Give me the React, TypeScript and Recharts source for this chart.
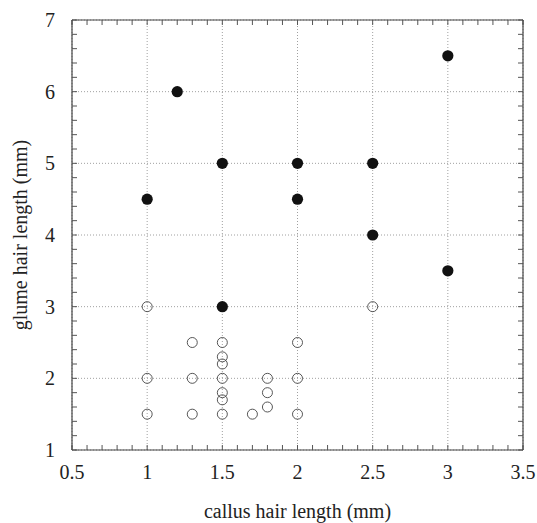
import { ScatterChart, Scatter, XAxis, YAxis, CartesianGrid, Label } from 'recharts'

// filled dots
const filledPoints = [
  { x: 1, y: 4.5 },
  { x: 1.2, y: 6 },
  { x: 1.5, y: 5 },
  { x: 1.5, y: 3 },
  { x: 2, y: 5 },
  { x: 2, y: 4.5 },
  { x: 2.5, y: 5 },
  { x: 2.5, y: 4 },
  { x: 3, y: 6.5 },
  { x: 3, y: 3.5 },
]

// open circles
const openPoints = [
  { x: 1, y: 3 },
  { x: 1, y: 2 },
  { x: 1, y: 1.5 },
  { x: 1.3, y: 2.5 },
  { x: 1.3, y: 2 },
  { x: 1.3, y: 1.5 },
  { x: 1.5, y: 2.5 },
  { x: 1.5, y: 2.3 },
  { x: 1.5, y: 2.2 },
  { x: 1.5, y: 2 },
  { x: 1.5, y: 1.8 },
  { x: 1.5, y: 1.7 },
  { x: 1.5, y: 1.5 },
  { x: 1.7, y: 1.5 },
  { x: 1.8, y: 2 },
  { x: 1.8, y: 1.8 },
  { x: 1.8, y: 1.6 },
  { x: 2, y: 2.5 },
  { x: 2, y: 2 },
  { x: 2, y: 1.5 },
  { x: 2.5, y: 3 },
]

const xTicks = [0.5, 1, 1.5, 2, 2.5, 3, 3.5]
const yTicks = [1, 2, 3, 4, 5, 6, 7]
const xMinorTicks = [
  0.5, 0.6, 0.7, 0.8, 0.9, 1, 1.1, 1.2, 1.3, 1.4, 1.5, 1.6, 1.7, 1.8, 1.9, 2,
  2.1, 2.2, 2.3, 2.4, 2.5, 2.6, 2.7, 2.8, 2.9, 3, 3.1, 3.2, 3.3, 3.4, 3.5,
]
const yMinorTicks = [
  1, 1.2, 1.4, 1.6, 1.8, 2, 2.2, 2.4, 2.6, 2.8, 3, 3.2, 3.4, 3.6, 3.8, 4,
  4.2, 4.4, 4.6, 4.8, 5, 5.2, 5.4, 5.6, 5.8, 6, 6.2, 6.4, 6.6, 6.8, 7,
]

const xDomain = [0.5, 3.5]
const yDomain = [1, 7]

const FONT = 'Liberation Serif'
const frame = { stroke: '#444', strokeWidth: 1.2 }
const tickStroke = { stroke: '#555', strokeWidth: 1 }
const tickText = { fontSize: 20, fill: '#222' }

const FilledDot = (p: any) => <circle cx={p.cx} cy={p.cy} r={5.6} fill="#111" />
const OpenDot = (p: any) => (
  <circle cx={p.cx} cy={p.cy} r={5} fill="none" stroke="#444" strokeWidth={0.9} />
)
const NoDot = () => <g />
const NoTick = () => <g />

export default function App() {
  return (
    <div style={{ position: 'absolute', left: 0, top: 0 }}>
      <style>{`.chart svg text { font-family: 'Liberation Serif', serif !important; }`}</style>
      <div className="chart">
        <ScatterChart width={537} height={523} margin={{ top: 20, right: 14, bottom: 0, left: 0 }}>
          <CartesianGrid strokeDasharray="1 2" stroke="#888" strokeWidth={0.8} />

          {/* minor tick marks (inward) and frame */}
          <XAxis xAxisId="xm" type="number" dataKey="x" domain={xDomain} ticks={xMinorTicks}
            interval={0} height={1} mirror tick={NoTick} tickSize={5} tickLine={tickStroke}
            axisLine={frame} allowDataOverflow />
          <XAxis xAxisId="xt" orientation="top" type="number" dataKey="x" domain={xDomain}
            ticks={xMinorTicks} interval={0} height={1} mirror tick={NoTick} tickSize={5}
            tickLine={tickStroke} axisLine={frame} allowDataOverflow />
          <YAxis yAxisId="ym" type="number" dataKey="y" domain={yDomain} ticks={yMinorTicks}
            interval={0} width={1} mirror tick={NoTick} tickSize={5} tickLine={tickStroke}
            axisLine={frame} allowDataOverflow />
          <YAxis yAxisId="yr" orientation="right" type="number" dataKey="y" domain={yDomain}
            ticks={yMinorTicks} interval={0} width={1} mirror tick={NoTick} tickSize={5}
            tickLine={tickStroke} axisLine={frame} allowDataOverflow />

          {/* labelled axes */}
          <XAxis type="number" dataKey="x" domain={xDomain} ticks={xTicks} interval={0}
            height={73} tickLine={false} axisLine={false} tickSize={0} tickMargin={15}
            tick={tickText} allowDataOverflow>
            <Label
              content={({ viewBox }: any) => (
                <text x={viewBox.x + viewBox.width / 2} y={viewBox.y + 68} textAnchor="middle"
                  fontFamily={FONT} fontSize={20} fill="#222">
                  callus hair length (mm)
                </text>
              )}
            />
          </XAxis>
          <YAxis type="number" dataKey="y" domain={yDomain} ticks={yTicks} interval={0}
            width={72} tickLine={false} axisLine={false} tickSize={0} tickMargin={17}
            tick={tickText} allowDataOverflow>
            <Label
              content={({ viewBox }: any) => {
                const cx = viewBox.x + 27
                const cy = viewBox.y + viewBox.height / 2
                return (
                  <text x={cx} y={cy} transform={`rotate(-90, ${cx}, ${cy})`} textAnchor="middle"
                    fontFamily={FONT} fontSize={20} fill="#222">
                    glume hair length (mm)
                  </text>
                )
              }}
            />
          </YAxis>

          {/* invisible series so the frame axes get drawn */}
          <Scatter xAxisId="xm" yAxisId="ym" data={filledPoints} shape={NoDot}
            isAnimationActive={false} legendType="none" />
          <Scatter xAxisId="xt" yAxisId="yr" data={filledPoints} shape={NoDot}
            isAnimationActive={false} legendType="none" />

          <Scatter data={openPoints} shape={OpenDot} isAnimationActive={false} />
          <Scatter data={filledPoints} shape={FilledDot} isAnimationActive={false} />
        </ScatterChart>
      </div>
    </div>
  )
}
